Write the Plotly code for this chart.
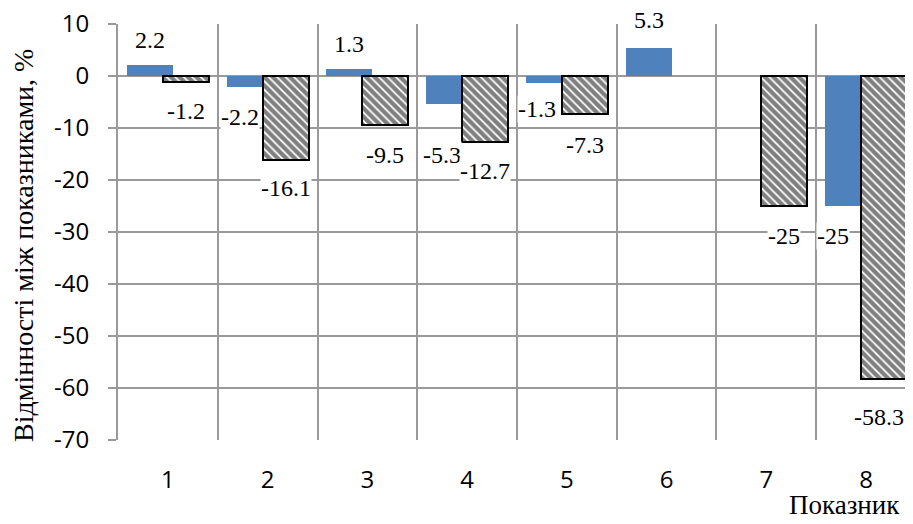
import plotly.graph_objects as go

categories = [1, 2, 3, 4, 5, 6, 7, 8]
tick_labels = ["1", "2", "3", "4", "5", "6", "7", "8"]
series_a = [2.2, -2.2, 1.3, -5.3, -1.3, 5.3, None, -25]
series_b = [-1.2, -16.1, -9.5, -12.7, -7.3, None, -25, -58.3]
y_tick_vals = [10, 0, -10, -20, -30, -40, -50, -60, -70]
y_tick_text = ["10", "0", "-10", "-20", "-30", "-40", "-50", "-60", "-70"]

y_title = "Відмінності між показниками, %"
x_title = "Показник"

# label placement (pixels) – styling only
a_dy = [25, -30, 25, -51, -26, 28, 0, -30]
a_dx = [0, -10, 0, -7, -12, 0, 0, -15]
b_dy = [-29, -28, -30, -29, -31, 0, -30, -38]
b_dx = [0, 0, 0, 0, 0, 0, 0, -5]

BLUE = "#4F81BD"
GRID = "#9A9A9A"
BAR_W = 0.46
OFF_A = -0.41
OFF_B = -0.05

fig = go.Figure()
fig.add_trace(go.Bar(
    x=categories, y=series_a, width=BAR_W, offset=OFF_A,
    marker=dict(color=BLUE, line=dict(width=0)), showlegend=False,
))
fig.add_trace(go.Bar(
    x=categories, y=series_b, width=BAR_W, offset=OFF_B,
    marker=dict(color="white", line=dict(color="black", width=2),
                pattern=dict(shape="\\", fgcolor="black", bgcolor="white",
                             size=6, solidity=0.7)),
    showlegend=False,
))

label_font = dict(family="Liberation Serif", size=24, color="black")
for i, c in enumerate(categories):
    for vals, off, dys, dxs in ((series_a, OFF_A, a_dy, a_dx), (series_b, OFF_B, b_dy, b_dx)):
        v = vals[i]
        if v is None:
            continue
        fig.add_annotation(
            x=c + off + BAR_W / 2, y=v, xref="x", yref="y",
            text=f"{v:g}", showarrow=False, font=label_font,
            bgcolor="white", borderpad=0,
            xshift=dxs[i], yshift=dys[i], xanchor="center", yanchor="middle",
        )

fig.add_annotation(
    x=1, y=0, xref="paper", yref="paper", xanchor="right", yanchor="middle",
    text=x_title, showarrow=False, xshift=-11, yshift=-65,
    font=dict(family="Liberation Serif", size=27, color="black"),
)
fig.add_annotation(
    x=0, y=0.5, xref="paper", yref="paper", xanchor="center", yanchor="middle",
    text=y_title, showarrow=False, textangle=-90, xshift=-95, yshift=-14,
    font=dict(family="Liberation Serif", size=28, color="black"),
)

fig.update_layout(
    width=905, height=508,
    margin=dict(l=110, r=0, t=16, b=76),
    plot_bgcolor="white", paper_bgcolor="white",
    barmode="overlay", bargap=0,
    font=dict(family="Open Sans", size=24, color="black"),
)
fig.update_xaxes(
    range=[0.5, 8.47], tickvals=categories, ticktext=tick_labels,
    showgrid=False, zeroline=False, ticks="", ticklabelstandoff=23,
    minor=dict(tick0=0.5, dtick=1, showgrid=True, gridcolor=GRID, gridwidth=2, ticks=""),
    showline=False, automargin=False, ticklabeloverflow="allow",
    tickfont=dict(family="Open Sans", size=24, color="black"),
)
fig.update_yaxes(
    range=[-70, 10], tickvals=y_tick_vals, ticktext=y_tick_text,
    showgrid=True, gridcolor=GRID, gridwidth=2,
    zeroline=True, zerolinecolor=GRID, zerolinewidth=2,
    ticks="outside", ticklen=8, tickcolor=GRID, tickwidth=2,
    ticklabelstandoff=14, automargin=False, ticklabeloverflow="allow",
    showline=True, linecolor=GRID, linewidth=2,
    tickfont=dict(family="Open Sans", size=24, color="black"),
)

fig.write_html("out.html", default_width="905px", default_height="508px")
